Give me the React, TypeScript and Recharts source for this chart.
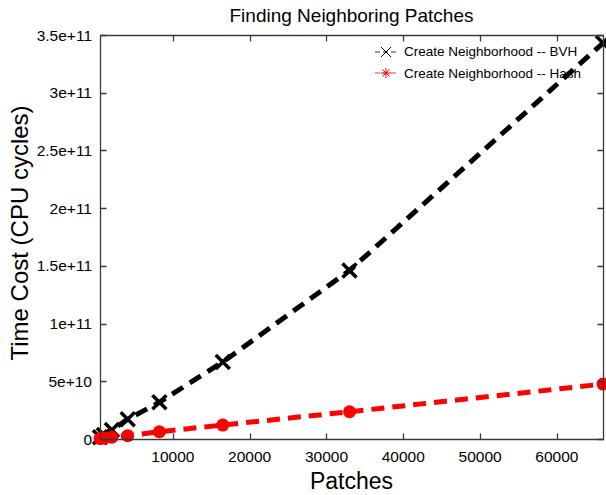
import { Line, LineChart, XAxis, YAxis } from "recharts";

// patch counts (x) and measured CPU cycles per method
const patches = [516, 1031, 2062, 4125, 8250, 16500, 33000, 66000];
const bvhCycles = [0.016e11, 0.035e11, 0.078e11, 0.171e11, 0.318e11, 0.667e11, 1.46e11, 3.43e11];
const hashCycles = [0.004e11, 0.008e11, 0.015e11, 0.029e11, 0.063e11, 0.121e11, 0.236e11, 0.476e11];

const xDomain = [516, 66000];
const yDomain = [0, 3.5e11];
const xTicks = [10000, 20000, 30000, 40000, 50000, 60000];
const yTicks = [0, 5e10, 1e11, 1.5e11, 2e11, 2.5e11, 3e11, 3.5e11];
const yTickLabels = ["0", "5e+10", "1e+11", "1.5e+11", "2e+11", "2.5e+11", "3e+11", "3.5e+11"];

const seriesNames = ["Create Neighborhood -- BVH", "Create Neighborhood -- Hash"];

const data = patches.map((p, i) => ({ patches: p, bvh: bvhCycles[i], hash: hashCycles[i] }));

const FONT = "'Liberation Sans', Arial, sans-serif";
const AXIS = "#3a3a3a";
const TICK = 6;

// plot box (matches the chart margins + axis sizes below)
const W = 606;
const H = 495;
const PLOT = { left: 100, top: 35, right: W - 3, bottom: H - 56 };

function BottomTick({ x, y, payload }: any) {
  return (
    <text x={x} y={y + 23} textAnchor="middle" fontSize={15.5} fontFamily={FONT} fill="#000">
      {payload.value}
    </text>
  );
}

function LeftTick({ x, y, payload }: any) {
  const idx = yTicks.indexOf(payload.value);
  return (
    <text x={x - 8} y={y + 5.5} textAnchor="end" fontSize={15.5} fontFamily={FONT} fill="#000">
      {idx >= 0 ? yTickLabels[idx] : payload.value}
    </text>
  );
}

function CrossDot({ cx, cy }: any) {
  if (cx == null || cy == null) return <g />;
  const s = 7;
  return (
    <g>
      <line x1={cx - s} y1={cy - s} x2={cx + s} y2={cy + s} stroke="#000" strokeWidth={3.5} />
      <line x1={cx - s} y1={cy + s} x2={cx + s} y2={cy - s} stroke="#000" strokeWidth={3.5} />
    </g>
  );
}

function LegendBox() {
  return (
    <div
      style={{
        position: "absolute",
        top: 41,
        left: 375,
        fontFamily: FONT,
        fontSize: 13.5,
        color: "#000",
        lineHeight: "21.5px",
      }}
    >
      {seriesNames.map((name, i) => (
        <div key={name} style={{ display: "flex", alignItems: "center", whiteSpace: "nowrap" }}>
          <svg width={27} height={14} style={{ marginRight: 2 }}>
            <line x1={0} x2={24} y1={7} y2={7} stroke={i === 0 ? "#000" : "#ff0000"} strokeWidth={0.8} strokeDasharray="5 3" />
            {i === 0 ? (
              <g stroke="#000" strokeWidth={1}>
                <line x1={6} y1={2} x2={16} y2={12} />
                <line x1={6} y1={12} x2={16} y2={2} />
              </g>
            ) : (
              <g stroke="#ff0000" strokeWidth={1}>
                <line x1={6} y1={7} x2={16} y2={7} />
                <line x1={11} y1={2} x2={11} y2={12} />
                <line x1={7.5} y1={3.5} x2={14.5} y2={10.5} />
                <line x1={7.5} y1={10.5} x2={14.5} y2={3.5} />
              </g>
            )}
          </svg>
          <span>{name}</span>
        </div>
      ))}
    </div>
  );
}

// box frame, inward tick marks and titles drawn on top of the chart
function Frame() {
  const px = (v: number) => PLOT.left + ((v - xDomain[0]) / (xDomain[1] - xDomain[0])) * (PLOT.right - PLOT.left);
  const py = (v: number) => PLOT.bottom - ((v - yDomain[0]) / (yDomain[1] - yDomain[0])) * (PLOT.bottom - PLOT.top);
  const midX = (PLOT.left + PLOT.right) / 2;
  const L = PLOT.left + 0.5;
  const R = PLOT.right + 0.5;
  const T = PLOT.top + 0.5;
  const B = PLOT.bottom + 0.5;
  return (
    <svg width={W} height={H} style={{ position: "absolute", left: 0, top: 0, pointerEvents: "none" }}>
      <path
        d={`M${L},${T}L${R},${T}L${R},${B}L${L},${B}Z`}
        fill="none"
        stroke={AXIS}
        strokeWidth={1.3}
      />
      {xTicks.map((t) => {
        const x = Math.round(px(t)) + 0.5;
        return (
          <path
            key={`x${t}`}
            d={`M${x},${B}L${x},${B - TICK}M${x},${T}L${x},${T + TICK}`}
            fill="none"
            stroke={AXIS}
            strokeWidth={1.3}
          />
        );
      })}
      {yTicks.map((t) => {
        const y = Math.round(py(t)) + 0.5;
        return (
          <path
            key={`y${t}`}
            d={`M${L},${y}L${L + TICK},${y}M${R},${y}L${R - TICK},${y}`}
            fill="none"
            stroke={AXIS}
            strokeWidth={1.3}
          />
        );
      })}
      <text x={midX} y={22} textAnchor="middle" fontSize={19} fontFamily={FONT} fill="#000">
        Finding Neighboring Patches
      </text>
      <text x={midX} y={489} textAnchor="middle" fontSize={23} fontFamily={FONT} fill="#000">
        Patches
      </text>
      <text x={28} y={233} transform="rotate(-90 28 233)" textAnchor="middle" fontSize={24} fontFamily={FONT} fill="#000">
        Time Cost (CPU cycles)
      </text>
    </svg>
  );
}

export default function App() {
  return (
    <div style={{ position: "absolute", left: 0, top: 0, width: W, height: H, background: "#fff" }}>
      <LineChart width={W} height={H} data={data} margin={{ top: 35, right: 3, bottom: 0, left: 0 }}>
        <XAxis
          dataKey="patches"
          type="number"
          domain={xDomain}
          ticks={xTicks}
          height={56}
          tickSize={0}
          tickMargin={0}
          tick={BottomTick}
          axisLine={false}
          tickLine={false}
        />
        <YAxis
          type="number"
          domain={yDomain}
          ticks={yTicks}
          width={100}
          tickSize={0}
          tickMargin={0}
          tick={LeftTick}
          axisLine={false}
          tickLine={false}
        />
        <Line
          dataKey="bvh"
          name={seriesNames[0]}
          stroke="#000"
          strokeWidth={5}
          strokeDasharray="13 8"
          dot={CrossDot}
          isAnimationActive={false}
        />
        <Line
          dataKey="hash"
          name={seriesNames[1]}
          stroke="#ff0000"
          strokeWidth={5}
          strokeDasharray="13 8"
          dot={{ r: 6.5, fill: "#ff0000", stroke: "none", strokeDasharray: "" }}
          isAnimationActive={false}
        />
      </LineChart>
      <Frame />
      <LegendBox />
    </div>
  );
}
